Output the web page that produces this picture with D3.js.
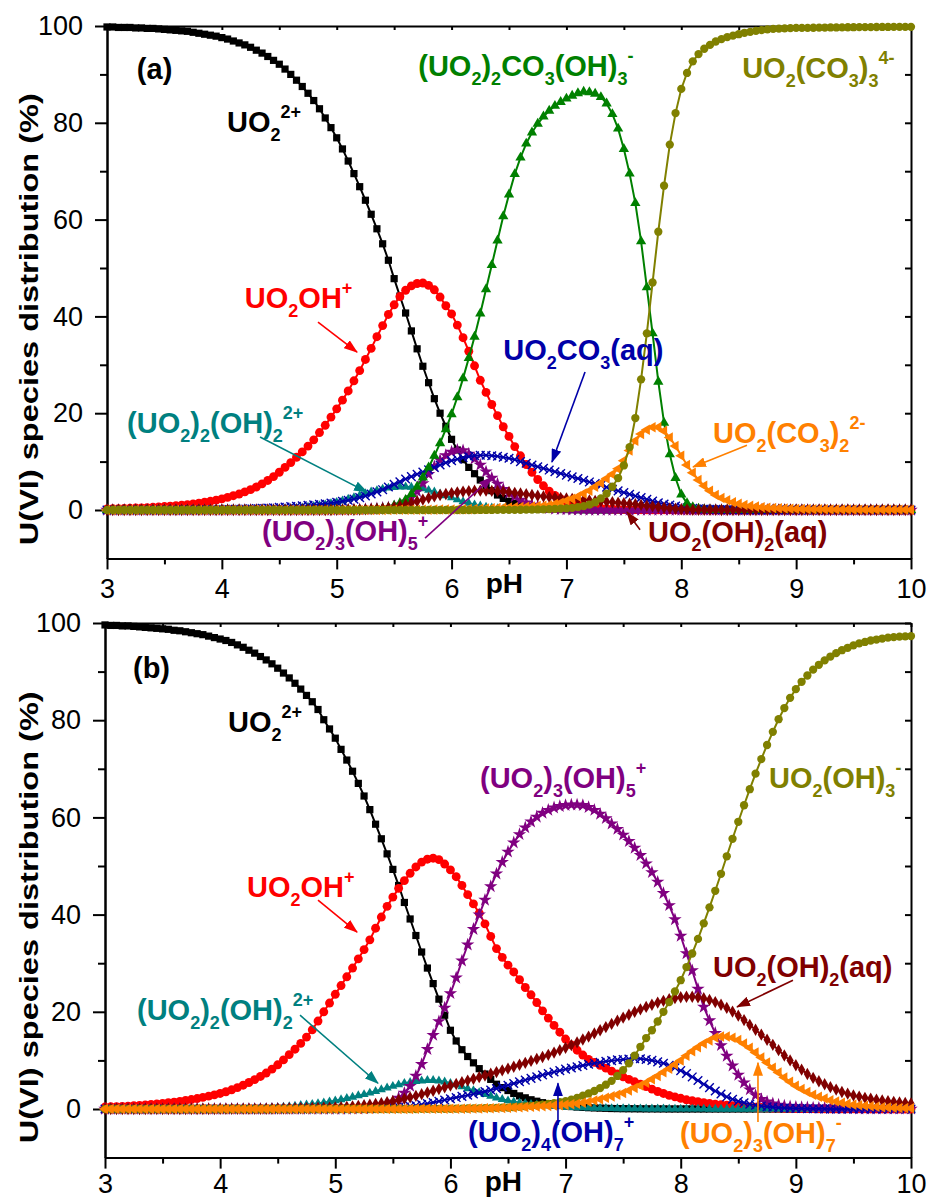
<!DOCTYPE html>
<html><head><meta charset="utf-8">
<script src="https://cdn.jsdelivr.net/npm/d3@7"></script>
<style>body{margin:0;background:#fff}svg{display:block}text{font-family:"Liberation Sans",Arial,sans-serif}</style>
</head><body><svg id="c" width="930" height="1200"></svg>
<script>
// ---------------- DATA ----------------
const pH = [
3,3.05,3.1,3.15,3.2,3.25,3.3,3.35,3.4,3.45,3.5,3.55,3.6,3.65,3.7,3.75,3.8,3.85,3.9,3.95,
4,4.05,4.1,4.15,4.2,4.25,4.3,4.35,4.4,4.45,4.5,4.55,4.6,4.65,4.7,4.75,4.8,4.85,4.9,4.95,
5,5.05,5.1,5.15,5.2,5.25,5.3,5.35,5.4,5.45,5.5,5.55,5.6,5.65,5.7,5.75,5.8,5.85,5.9,5.95,
6,6.05,6.1,6.15,6.2,6.25,6.3,6.35,6.4,6.45,6.5,6.55,6.6,6.65,6.7,6.75,6.8,6.85,6.9,6.95,
7,7.05,7.1,7.15,7.2,7.25,7.3,7.35,7.4,7.45,7.5,7.55,7.6,7.65,7.7,7.75,7.8,7.85,7.9,7.95,
8,8.05,8.1,8.15,8.2,8.25,8.3,8.35,8.4,8.45,8.5,8.55,8.6,8.65,8.7,8.75,8.8,8.85,8.9,8.95,
9,9.05,9.1,9.15,9.2,9.25,9.3,9.35,9.4,9.45,9.5,9.55,9.6,9.65,9.7,9.75,9.8,9.85,9.9,9.95,
10];
const xTickLabels = [3,4,5,6,7,8,9,10];
const xMinorTicks = [3.5,4.5,5.5,6.5,7.5,8.5,9.5];
const yTickLabels = [0,20,40,60,80,100];
const yMinorTicks = [10,30,50,70,90];

// Panel (a)
const a_UO2 = [
99.8,99.8,99.7,99.7,99.7,99.6,99.6,99.5,99.5,99.4,99.3,99.2,99.1,99.0,98.9,98.7,98.5,98.3,98.1,97.9,
97.6,97.3,96.9,96.5,96.1,95.6,95.0,94.4,93.7,92.9,92.1,91.1,90.0,88.8,87.5,86.1,84.6,82.9,81.0,79.0,
76.9,74.6,72.1,69.5,66.8,64.0,61.1,58.1,55.0,51.6,47.8,44.2,40.7,37.0,33.3,29.7,26.3,23.0,20.0,17.3,
14.6,12.4,10.4,8.8,7.5,6.2,5.0,4.0,3.1,2.4,1.8,1.4,1.0,0.75,0.55,0.4,0.3,0.2,0.15,0.1,
0.1,0.05,0.03,0.02,0.01,0,0,0,0,0,0,0,0,0,0,0,0,0,0,0,
0,0,0,0,0,0,0,0,0,0,0,0,0,0,0,0,0,0,0,0,
0,0,0,0,0,0,0,0,0,0,0,0,0,0,0,0,0,0,0,0,
0];
const a_UO2OH = [
0.22,0.25,0.28,0.32,0.35,0.4,0.45,0.5,0.56,0.63,0.71,0.79,0.89,1.0,1.12,1.26,1.42,1.6,1.8,2.03,
2.3,2.6,2.95,3.3,3.75,4.2,4.75,5.4,6.1,6.9,7.8,8.8,9.8,10.9,12.0,13.2,14.5,16.0,17.5,19.2,
20.9,22.7,24.6,26.7,28.8,31.1,33.4,35.8,38.1,40.4,42.4,44.1,45.4,46.3,46.8,46.9,46.4,45.5,44.0,42.2,
40.5,38.2,35.6,32.8,29.8,26.8,24.3,21.8,19.5,17.2,15.2,13.1,11.2,9.4,7.8,6.3,5.0,3.9,3.0,2.3,
1.8,1.4,1.1,0.85,0.65,0.5,0.38,0.3,0.22,0.17,0.13,0.1,0.08,0.06,0.05,0.04,0.03,0.02,0.02,0.01,
0,0,0,0,0,0,0,0,0,0,0,0,0,0,0,0,0,0,0,0,
0,0,0,0,0,0,0,0,0,0,0,0,0,0,0,0,0,0,0,0,
0];
const a_UO22OH2 = [
0,0,0,0,0,0,0,0,0,0,0,0,0,0,0,0,0,0,0,0,
0.01,0.02,0.02,0.03,0.04,0.05,0.06,0.08,0.1,0.13,0.17,0.22,0.3,0.38,0.48,0.6,0.75,0.92,1.1,1.35,
1.6,1.9,2.25,2.6,3.0,3.4,3.75,4.05,4.35,4.55,4.7,4.8,4.8,4.75,4.6,4.4,4.1,3.75,3.35,2.95,
2.55,2.15,1.75,1.4,1.1,0.85,0.63,0.46,0.33,0.23,0.16,0.11,0.07,0.05,0.03,0.02,0.01,0.01,0,0,
0,0,0,0,0,0,0,0,0,0,0,0,0,0,0,0,0,0,0,0,
0,0,0,0,0,0,0,0,0,0,0,0,0,0,0,0,0,0,0,0,
0,0,0,0,0,0,0,0,0,0,0,0,0,0,0,0,0,0,0,0,
0];
const a_UO23OH5 = [
0,0,0,0,0,0,0,0,0,0,0,0,0,0,0,0,0,0,0,0,
0,0,0,0,0,0,0,0,0,0,0,0,0,0,0,0,0,0,0,0,
0.02,0.03,0.05,0.07,0.1,0.14,0.2,0.28,0.38,0.5,0.7,1.1,1.7,2.6,3.8,5.5,7.4,9.0,10.3,11.3,
12.0,12.4,12.3,11.6,10.6,9.3,7.9,6.6,5.4,4.3,3.5,2.8,2.1,1.5,1.05,0.75,0.5,0.35,0.22,0.14,
0.09,0.05,0.03,0.02,0.01,0,0,0,0,0,0,0,0,0,0,0,0,0,0,0,
0,0,0,0,0,0,0,0,0,0,0,0,0,0,0,0,0,0,0,0,
0,0,0,0,0,0,0,0,0,0,0,0,0,0,0,0,0,0,0,0,
0];
const a_UO2CO3 = [
0,0,0,0,0,0,0,0,0,0,0.01,0.01,0.02,0.02,0.03,0.03,0.04,0.05,0.06,0.08,
0.1,0.12,0.15,0.17,0.2,0.25,0.3,0.35,0.4,0.47,0.55,0.62,0.7,0.78,0.85,0.95,1.05,1.17,1.3,1.45,
1.6,1.8,2.0,2.25,2.55,2.9,3.3,3.75,4.2,4.75,5.3,5.85,6.4,6.9,7.4,7.85,8.3,8.8,9.3,9.75,
10.2,10.5,10.8,11.0,11.2,11.3,11.3,11.2,11.1,10.9,10.7,10.4,10.0,9.65,9.3,8.95,8.6,8.25,7.9,7.55,
7.2,6.85,6.5,6.15,5.8,5.45,5.1,4.7,4.3,3.95,3.6,3.25,2.9,2.55,2.2,1.85,1.5,1.25,1.0,0.8,
0.6,0.47,0.35,0.27,0.2,0.16,0.12,0.09,0.07,0.05,0.04,0.03,0.02,0.01,0.01,0,0,0,0,0,
0,0,0,0,0,0,0,0,0,0,0,0,0,0,0,0,0,0,0,0,
0];
const a_UO22CO3OH3 = [
0,0,0,0,0,0,0,0,0,0,0,0,0,0,0,0,0,0,0,0,
0,0,0,0,0,0,0,0,0,0,0,0,0,0,0,0,0,0,0,0,
0.01,0.01,0.02,0.03,0.05,0.08,0.13,0.2,0.3,0.5,0.9,1.4,2.1,3.3,4.8,6.7,8.8,11.2,13.8,16.7,
19.8,23.3,27.2,31.4,35.8,40.6,45.6,50.6,55.7,60.7,65.2,69.4,72.8,75.7,78.0,79.8,81.3,82.5,83.5,84.3,
85.0,85.6,86.1,86.4,86.3,86.0,85.3,84.0,81.8,78.8,74.6,69.5,63.4,55.5,46.0,36.5,26.5,18.0,11.5,6.6,
3.2,1.4,0.6,0.25,0.1,0.05,0.02,0.01,0,0,0,0,0,0,0,0,0,0,0,0,
0,0,0,0,0,0,0,0,0,0,0,0,0,0,0,0,0,0,0,0,
0];
const a_UO2OH2 = [
0,0,0,0,0,0,0,0,0,0,0,0,0,0,0,0,0,0,0,0,
0,0,0,0,0,0,0,0,0,0,0,0,0,0,0,0,0,0,0,0,
0.02,0.03,0.04,0.06,0.09,0.13,0.18,0.24,0.3,0.45,0.6,0.85,1.1,1.45,1.8,2.15,2.5,2.8,3.1,3.3,
3.5,3.65,3.8,3.9,4.0,4.0,4.0,3.95,3.9,3.8,3.7,3.55,3.4,3.25,3.1,2.95,2.8,2.7,2.6,2.5,
2.4,2.3,2.2,2.1,2.0,1.9,1.8,1.7,1.6,1.5,1.4,1.3,1.2,1.05,0.9,0.75,0.6,0.47,0.35,0.25,
0.15,0.1,0.06,0.04,0.03,0.02,0.01,0,0,0,0,0,0,0,0,0,0,0,0,0,
0,0,0,0,0,0,0,0,0,0,0,0,0,0,0,0,0,0,0,0,
0];
const a_UO2CO32 = [
0,0,0,0,0,0,0,0,0,0,0,0,0,0,0,0,0,0,0,0,
0,0,0,0,0,0,0,0,0,0,0,0,0,0,0,0,0,0,0,0,
0,0,0,0,0,0.01,0.01,0.01,0.02,0.02,0.03,0.03,0.04,0.05,0.05,0.06,0.07,0.08,0.09,0.1,
0.1,0.12,0.15,0.18,0.22,0.26,0.3,0.35,0.4,0.45,0.5,0.55,0.6,0.67,0.74,0.82,0.9,1.0,1.25,1.5,
1.9,2.3,2.8,3.4,4.0,4.8,5.6,6.5,7.4,8.5,10.2,12.3,14.3,15.7,16.6,17.1,17.1,16.3,15.0,13.2,
11.2,9.3,7.7,6.2,5.0,4.0,3.1,2.5,2.0,1.6,1.3,1.05,0.85,0.7,0.58,0.48,0.4,0.34,0.29,0.25,
0.22,0.2,0.18,0.16,0.14,0.13,0.12,0.11,0.1,0.09,0.08,0.07,0.07,0.06,0.06,0.05,0.05,0.04,0.04,0.04,
0.03];
const a_UO2CO33 = [
0,0,0,0,0,0,0,0,0,0,0,0,0,0,0,0,0,0,0,0,
0,0,0,0,0,0,0,0,0,0,0,0,0,0,0,0,0,0,0,0,
0,0,0,0,0,0,0,0,0,0,0,0,0,0,0,0,0,0,0,0,
0,0,0,0,0,0.01,0.01,0.01,0.02,0.02,0.03,0.04,0.05,0.07,0.09,0.11,0.14,0.18,0.23,0.29,
0.35,0.45,0.6,0.8,1.1,1.6,2.4,3.4,4.8,6.6,9.2,13.0,19.0,27.0,36.5,47.0,57.5,67.0,75.5,82.0,
87.0,90.3,92.7,94.2,95.3,96.1,96.8,97.3,97.7,98.0,98.3,98.6,98.8,99.0,99.15,99.3,99.4,99.45,99.5,99.55,
99.6,99.6,99.62,99.64,99.66,99.68,99.7,99.7,99.72,99.74,99.75,99.76,99.77,99.78,99.79,99.8,99.8,99.81,99.82,99.82,
99.83];

// Panel (b)
const b_UO2 = [
99.6,99.5,99.5,99.4,99.4,99.3,99.2,99.1,99.0,98.9,98.8,98.7,98.5,98.4,98.2,98.0,97.8,97.6,97.3,97.0,
96.7,96.4,96.0,95.5,95.0,94.4,93.8,93.1,92.4,91.6,90.7,89.7,88.7,87.6,86.4,85.1,83.8,82.2,80.1,78.2,
76.3,74.0,71.8,69.5,67.0,64.4,61.6,58.6,55.6,52.5,49.3,46.0,42.5,39.1,35.7,32.3,29.0,25.8,22.6,19.3,
16.2,14.0,12.2,10.8,9.5,8.3,7.2,6.1,5.1,4.4,3.8,3.2,2.7,2.3,1.9,1.6,1.3,1.1,0.9,0.75,
0.6,0.5,0.4,0.33,0.27,0.22,0.18,0.14,0.1,0.08,0.06,0.05,0.04,0.03,0.02,0.02,0.01,0.01,0,0,
0,0,0,0,0,0,0,0,0,0,0,0,0,0,0,0,0,0,0,0,
0,0,0,0,0,0,0,0,0,0,0,0,0,0,0,0,0,0,0,0,
0];
const b_UO2OH = [
0.4,0.45,0.5,0.55,0.6,0.7,0.75,0.85,0.95,1.05,1.15,1.3,1.4,1.55,1.75,1.95,2.15,2.4,2.65,2.9,
3.2,3.55,3.95,4.4,4.9,5.45,6.05,6.7,7.4,8.2,9.1,10.1,11.2,12.3,13.5,14.8,16.3,18.1,20.0,21.8,
23.6,25.4,27.2,29.0,30.9,32.8,34.8,37.2,39.5,41.7,43.6,45.4,47.0,48.5,49.8,50.8,51.4,51.6,51.3,50.4,
49.2,47.8,46.0,44.1,42.2,40.3,38.1,35.5,33.0,31.2,29.6,28.2,26.6,25.0,23.5,21.9,20.2,18.7,17.2,15.8,
14.4,13.2,12.1,11.1,10.2,9.6,9.0,8.4,7.8,7.2,6.6,6.1,5.6,5.1,4.6,4.1,3.6,3.2,2.8,2.5,
2.2,1.9,1.7,1.5,1.3,1.15,1.0,0.9,0.8,0.7,0.6,0.5,0.42,0.35,0.3,0.25,0.2,0.17,0.14,0.12,
0.1,0.09,0.08,0.07,0.06,0.05,0.04,0.04,0.03,0.03,0.02,0.02,0.02,0.01,0.01,0.01,0.01,0.01,0,0,
0];
const b_UO22OH2 = [
0,0,0,0,0,0,0,0,0,0,0,0,0,0,0,0,0,0,0,0,
0.05,0.06,0.07,0.08,0.1,0.12,0.15,0.18,0.22,0.27,0.33,0.41,0.5,0.62,0.75,0.87,1.0,1.15,1.3,1.5,
1.7,1.95,2.2,2.45,2.75,3.0,3.3,3.65,4.0,4.35,4.7,5.0,5.3,5.5,5.7,5.8,5.9,5.9,5.8,5.6,
5.3,5.0,4.6,4.2,3.8,3.4,3.0,2.65,2.3,2.0,1.7,1.5,1.3,1.15,1.0,0.87,0.75,0.65,0.55,0.47,
0.4,0.35,0.3,0.26,0.22,0.19,0.16,0.14,0.12,0.1,0.09,0.08,0.07,0.06,0.05,0.04,0.03,0.03,0.02,0.02,
0.01,0.01,0.01,0.01,0.01,0,0,0,0,0,0,0,0,0,0,0,0,0,0,0,
0,0,0,0,0,0,0,0,0,0,0,0,0,0,0,0,0,0,0,0,
0];
const b_UO23OH5 = [
0,0,0,0,0,0,0,0,0,0,0,0,0,0,0,0,0,0,0,0,
0,0,0,0,0,0,0,0,0,0,0,0,0,0,0,0,0,0,0,0,
0,0,0.01,0.02,0.04,0.08,0.2,0.35,0.6,1.0,1.5,2.3,3.3,4.7,6.8,9.2,12.3,15.2,18.0,20.8,
23.8,27.0,30.5,33.8,37.0,40.0,43.0,45.8,48.4,50.8,52.9,54.8,56.5,57.9,59.1,60.1,60.9,61.5,62.0,62.3,
62.5,62.6,62.6,62.5,62.1,61.5,60.7,59.8,58.7,57.6,56.4,55.1,53.7,52.2,50.5,48.7,46.7,44.4,41.9,39.0,
35.6,32.0,28.5,24.7,21.0,18.2,15.6,13.1,10.9,8.9,7.0,5.4,4.0,2.8,2.0,1.5,1.1,0.85,0.65,0.5,
0.4,0.33,0.28,0.24,0.2,0.17,0.14,0.12,0.1,0.08,0.07,0.06,0.05,0.04,0.04,0.03,0.03,0.02,0.02,0.02,
0.02];
const b_UO24OH7 = [
0,0,0,0,0,0,0,0,0,0,0,0,0,0,0,0,0,0,0,0,
0,0,0,0,0,0,0,0,0,0,0,0,0,0,0,0,0,0,0,0,
0.02,0.03,0.04,0.05,0.06,0.08,0.1,0.12,0.15,0.18,0.2,0.3,0.4,0.55,0.7,0.9,1.1,1.35,1.6,1.85,
2.1,2.35,2.6,2.85,3.1,3.35,3.6,3.9,4.2,4.55,4.9,5.25,5.6,5.95,6.3,6.65,7.0,7.3,7.6,7.9,
8.2,8.45,8.7,8.95,9.2,9.4,9.6,9.8,9.95,10.1,10.2,10.3,10.35,10.35,10.2,10.0,9.7,9.4,9.0,8.5,
7.9,7.3,6.6,5.85,5.1,4.4,3.7,3.1,2.5,2.0,1.6,1.3,1.0,0.8,0.6,0.47,0.35,0.27,0.2,0.15,
0.12,0.09,0.07,0.05,0.04,0.03,0.02,0.02,0.01,0.01,0,0,0,0,0,0,0,0,0,0,
0];
const b_UO2OH2 = [
0,0,0,0,0,0,0,0,0,0,0,0,0,0,0,0,0,0,0,0,
0.01,0.01,0.01,0.02,0.02,0.02,0.03,0.03,0.04,0.05,0.08,0.09,0.1,0.12,0.15,0.17,0.2,0.22,0.25,0.28,
0.3,0.37,0.45,0.55,0.65,0.77,0.9,1.05,1.2,1.4,1.6,1.85,2.1,2.4,2.7,3.05,3.4,3.75,4.1,4.45,
4.8,5.15,5.5,5.85,6.2,6.55,6.9,7.25,7.6,7.95,8.3,8.7,9.1,9.5,9.9,10.3,10.7,11.15,11.6,12.1,
12.6,13.15,13.7,14.3,14.9,15.55,16.2,16.85,17.5,18.15,18.8,19.4,20.0,20.5,21.0,21.45,21.9,22.25,22.6,22.8,
23.0,23.1,23.1,23.0,22.8,22.45,22.0,21.45,20.8,20.05,19.2,18.3,17.3,16.3,15.3,14.25,13.2,12.1,11.0,10.0,
9.0,8.1,7.2,6.4,5.7,5.1,4.5,4.0,3.5,3.15,2.8,2.55,2.3,2.1,1.9,1.75,1.6,1.47,1.35,1.25,
1.15];
const b_UO23OH7 = [
0,0,0,0,0,0,0,0,0,0,0,0,0,0,0,0,0,0,0,0,
0,0,0,0,0,0,0,0,0,0,0,0,0,0,0,0,0,0,0,0,
0,0,0,0,0,0,0,0,0,0,0.01,0.01,0.02,0.02,0.03,0.03,0.03,0.04,0.04,0.05,
0.05,0.06,0.07,0.08,0.1,0.12,0.14,0.17,0.2,0.23,0.27,0.31,0.35,0.4,0.45,0.5,0.55,0.62,0.7,0.77,
0.85,0.97,1.1,1.3,1.5,1.75,2.0,2.3,2.6,2.95,3.3,3.8,4.3,4.85,5.4,6.1,6.8,7.55,8.3,9.15,
10.0,10.95,11.9,12.7,13.5,14.1,14.7,14.9,14.9,14.65,14.2,13.45,12.6,11.6,10.6,9.55,8.5,7.5,6.5,5.6,
4.8,4.1,3.5,2.95,2.5,2.15,1.8,1.55,1.3,1.1,0.9,0.77,0.65,0.55,0.45,0.38,0.32,0.27,0.22,0.18,
0.15];
const b_UO2OH3 = [
0,0,0,0,0,0,0,0,0,0,0,0,0,0,0,0,0,0,0,0,
0,0,0,0,0,0,0,0,0,0,0,0,0,0,0,0,0,0,0,0,
0,0,0,0,0,0,0,0,0,0,0,0,0,0,0,0.02,0.02,0.03,0.03,0.04,
0.05,0.06,0.08,0.1,0.12,0.14,0.17,0.2,0.23,0.27,0.3,0.37,0.45,0.55,0.65,0.77,0.9,1.05,1.2,1.4,
1.6,1.9,2.3,2.75,3.2,3.7,4.3,5.0,5.8,6.8,8.0,9.4,11.0,12.8,14.6,16.2,18.0,20.0,22.0,24.2,
26.5,29.2,32.0,35.0,38.2,41.5,44.9,48.4,52.0,55.6,59.1,62.5,65.8,69.0,72.0,74.9,77.6,80.2,82.5,84.6,
86.4,87.9,89.2,90.4,91.4,92.3,93.1,93.8,94.4,94.9,95.4,95.8,96.1,96.4,96.6,96.8,97.0,97.1,97.2,97.25,
97.3];

// ---------------- STYLE / LAYOUT ----------------
const C = {black:'#000000', red:'#ff0000', teal:'#008080', purple:'#800080', blue:'#0000a8',
           green:'#008000', dred:'#800000', orange:'#ff8000', olive:'#808000'};

const seriesA = [
  {v:a_UO2, c:C.black, s:'square'},
  {v:a_UO2OH, c:C.red, s:'circle'},
  {v:a_UO22OH2, c:C.teal, s:'triUp'},
  {v:a_UO23OH5, c:C.purple, s:'star'},
  {v:a_UO2CO3, c:C.blue, s:'times'},
  {v:a_UO22CO3OH3, c:C.green, s:'triUpBig'},
  {v:a_UO2OH2, c:C.dred, s:'diamond'},
  {v:a_UO2CO32, c:C.orange, s:'triLeft'},
  {v:a_UO2CO33, c:C.olive, s:'hex'}
];
const seriesB = [
  {v:b_UO2, c:C.black, s:'square'},
  {v:b_UO2OH, c:C.red, s:'circle'},
  {v:b_UO22OH2, c:C.teal, s:'triUp'},
  {v:b_UO23OH5, c:C.purple, s:'star'},
  {v:b_UO24OH7, c:C.blue, s:'times'},
  {v:b_UO2OH2, c:C.dred, s:'diamond'},
  {v:b_UO2OH3, c:C.olive, s:'hex'},
  {v:b_UO23OH7, c:C.orange, s:'triLeft'}
];

const labelsA = [
  {t:[['(a)']], c:C.black, p:[3.26,89.0]},
  {t:[['UO'],['2','sub'],['2+','sup']], c:C.black, p:[4.045,78.1]},
  {t:[['(UO'],['2','sub'],[')'],['2','sub'],['CO'],['3','sub'],['(OH)'],['3','sub'],['-','sup']], c:C.green, p:[5.71,89.7]},
  {t:[['UO'],['2','sub'],['(CO'],['3','sub'],[')'],['3','sub'],['4-','sup']], c:C.olive, p:[8.53,89.3]},
  {t:[['UO'],['2','sub'],['OH'],['+','sup']], c:C.red, p:[4.2,41.7]},
  {t:[['UO'],['2','sub'],['CO'],['3','sub'],['(aq)']], c:C.blue, p:[6.45,31.0]},
  {t:[['(UO'],['2','sub'],[')'],['2','sub'],['(OH)'],['2','sub'],['2+','sup']], c:C.teal, p:[3.175,15.9]},
  {t:[['UO'],['2','sub'],['(CO'],['3','sub'],[')'],['2','sub'],['2-','sup']], c:C.orange, p:[8.276,13.8]},
  {t:[['(UO'],['2','sub'],[')'],['3','sub'],['(OH)'],['5','sub'],['+','sup']], c:C.purple, p:[4.35,-6.4]},
  {t:[['UO'],['2','sub'],['(OH)'],['2','sub'],['(aq)']], c:C.dred, p:[7.71,-6.6]}
];
const arrowsA = [
  {c:C.red, f:[4.837,38.8], to:[5.177,32.6]},
  {c:C.teal, f:[4.332,15.1], to:[5.264,3.7]},
  {c:C.purple, f:[5.769,-5.8], to:[6.352,6.8]},
  {c:C.blue, f:[7.162,28.5], to:[6.874,9.9]},
  {c:C.orange, f:[8.572,13.4], to:[8.102,8.9]},
  {c:C.dred, f:[7.641,-4.1], to:[7.527,-0.4]}
];
const labelsB = [
  {t:[['(b)']], c:C.black, p:[3.243,88.7]},
  {t:[['UO'],['2','sub'],['2+','sup']], c:C.black, p:[4.068,77.6]},
  {t:[['UO'],['2','sub'],['OH'],['+','sup']], c:C.red, p:[4.233,43.6]},
  {t:[['(UO'],['2','sub'],[')'],['3','sub'],['(OH)'],['5','sub'],['+','sup']], c:C.purple, p:[6.257,66.0]},
  {t:[['UO'],['2','sub'],['(OH)'],['3','sub'],['-','sup']], c:C.olive, p:[8.767,66.0]},
  {t:[['UO'],['2','sub'],['(OH)'],['2','sub'],['(aq)']], c:C.dred, p:[8.28,27.2]},
  {t:[['(UO'],['2','sub'],[')'],['2','sub'],['(OH)'],['2','sub'],['2+','sup']], c:C.teal, p:[3.278,18.3]},
  {t:[['(UO'],['2','sub'],[')'],['4','sub'],['(OH)'],['7','sub'],['+','sup']], c:C.blue, p:[6.153,-6.8]},
  {t:[['(UO'],['2','sub'],[')'],['3','sub'],['(OH)'],['7','sub'],['-','sup']], c:C.orange, p:[7.994,-7.0]}
];
const arrowsB = [
  {c:C.red, f:[4.85,43.0], to:[5.189,36.4]},
  {c:C.teal, f:[4.694,19.3], to:[5.371,5.3]},
  {c:C.dred, f:[8.975,26.5], to:[8.489,21.0]},
  {c:C.blue, f:[6.934,-3.3], to:[6.934,5.3]},
  {c:C.orange, f:[8.671,-2.7], to:[8.671,9.5]}
];

const FONT = '"Liberation Sans",Arial,sans-serif';
const LABEL_SIZE = 29, SMALL_SIZE = 18;
const svg = d3.select('#c');
const defs = svg.append('defs');
Object.entries(C).forEach(([k,col])=>{
  defs.append('marker').attr('id','ah-'+k).attr('markerUnits','userSpaceOnUse')
    .attr('markerWidth',14).attr('markerHeight',10).attr('refX',13).attr('refY',5)
    .attr('orient','auto').append('path').attr('d','M0,0L14,5L0,10Z').attr('fill',col);
});
const colKey = col => Object.keys(C).find(k=>C[k]===col);

const timesSym = d3.symbolTimes || {draw(ctx,size){const r=Math.sqrt(size)/2.4;ctx.moveTo(-r,-r);ctx.lineTo(r,r);ctx.moveTo(r,-r);ctx.lineTo(-r,r);}};
const SYM = {
  square:{t:d3.symbolSquare, size:52, rot:0, stroke:false},
  circle:{t:d3.symbolCircle, size:62, rot:0, stroke:false},
  triUp:{t:d3.symbolTriangle, size:36, rot:0, stroke:false},
  triUpBig:{t:d3.symbolTriangle, size:46, rot:0, stroke:false},
  star:{t:d3.symbolStar, size:56, rot:0, stroke:false},
  times:{t:timesSym, size:50, rot:0, stroke:true},
  diamond:{t:d3.symbolDiamond, size:44, rot:0, stroke:false},
  triLeft:{t:d3.symbolTriangle, size:48, rot:-90, stroke:false},
  hex:{t:d3.symbolCircle, size:54, rot:0, stroke:false}
};

function richText(g, x, y, parts, color) {
  const t = g.append('text').attr('x',x).attr('y',y).attr('fill',color)
    .attr('font-weight','bold').attr('font-size',LABEL_SIZE).attr('font-family',FONT);
  let cur = 0;
  parts.forEach(([s,k])=>{
    const target = k==='sub' ? 9 : k==='sup' ? -14 : 0;
    t.append('tspan').attr('dy', target-cur).attr('font-size', k ? SMALL_SIZE : LABEL_SIZE).text(s);
    cur = target;
  });
}

function drawPanel(L, series, labels, arrows) {
  const x = d3.scaleLinear().domain([3,10]).range([L.left, L.right]);
  const y = d3.scaleLinear().domain([-10,100]).range([L.bottom, L.top]);
  const g = svg.append('g');

  const styleAxis = sel => {
    sel.attr('font-size',27).attr('font-family',FONT);
    sel.selectAll('path.domain').attr('stroke','#000').attr('stroke-width',2);
    sel.selectAll('.tick line').attr('stroke','#000').attr('stroke-width',2);
    sel.selectAll('.tick text').attr('fill','#000');
  };
  g.append('g').attr('transform',`translate(0,${L.bottom})`)
    .call(d3.axisBottom(x).tickValues(xTickLabels).tickSize(11).tickPadding(L.xPad).tickSizeOuter(0).tickFormat(d3.format('d'))).call(styleAxis);
  g.append('g').attr('transform',`translate(0,${L.bottom})`)
    .call(d3.axisBottom(x).tickValues(xMinorTicks).tickSize(6).tickSizeOuter(0).tickFormat('')).call(styleAxis);
  g.append('g').attr('transform',`translate(0,${L.top})`)
    .call(d3.axisBottom(x).tickValues(xTickLabels.concat(xMinorTicks)).tickSize(4).tickSizeOuter(0).tickFormat('')).call(styleAxis);
  g.append('g').attr('transform',`translate(${L.left},0)`)
    .call(d3.axisLeft(y).tickValues(yTickLabels).tickSize(12).tickPadding(12).tickSizeOuter(0)).call(styleAxis);
  g.append('g').attr('transform',`translate(${L.left},0)`)
    .call(d3.axisLeft(y).tickValues(yMinorTicks).tickSize(7).tickSizeOuter(0).tickFormat('')).call(styleAxis);
  g.append('g').attr('transform',`translate(${L.right},0)`)
    .call(d3.axisLeft(y).tickValues(yTickLabels.concat(yMinorTicks)).tickSize(6).tickSizeOuter(0).tickFormat('')).call(styleAxis);

  g.append('text').attr('transform',`translate(38,${(L.top+L.bottom)/2+27}) rotate(-90)`)
    .attr('text-anchor','middle').attr('font-weight','bold').attr('font-size',26).attr('font-family',FONT)
    .attr('textLength',452).attr('lengthAdjust','spacingAndGlyphs')
    .text('U(VI) species distribution (%)');
  g.append('text').attr('x',x(6.46)).attr('y',L.bottom+L.pHdy).attr('text-anchor','middle')
    .attr('font-weight','bold').attr('font-size',28).attr('font-family',FONT).text('pH');

  const line = d3.line().x(d=>x(d[0])).y(d=>y(d[1]));
  series.forEach(s=>{
    const pts = pH.map((p,i)=>[p,s.v[i]]);
    g.append('path').attr('d',line(pts)).attr('fill','none').attr('stroke',s.c).attr('stroke-width',2);
    const sp = SYM[s.s];
    const dPath = d3.symbol().type(sp.t).size(sp.size)();
    g.append('g').selectAll('path').data(pts).join('path')
      .attr('transform',d=>`translate(${x(d[0])},${y(d[1])})${sp.rot?` rotate(${sp.rot})`:''}`)
      .attr('d',dPath)
      .attr('fill', sp.stroke ? 'none' : s.c)
      .attr('stroke', sp.stroke ? s.c : 'none')
      .attr('stroke-width', sp.stroke ? 1.4 : 0);
  });

  arrows.forEach(a=>{
    g.append('line').attr('x1',x(a.f[0])).attr('y1',y(a.f[1])).attr('x2',x(a.to[0])).attr('y2',y(a.to[1]))
      .attr('stroke',a.c).attr('stroke-width',1.6).attr('marker-end',`url(#ah-${colKey(a.c)})`);
  });
  labels.forEach(l=> richText(g, x(l.p[0]), y(l.p[1]), l.t, l.c));
}

drawPanel({left:107,right:911,top:26,bottom:558.4,xPad:9,pHdy:35}, seriesA, labelsA, arrowsA);
drawPanel({left:105,right:911,top:623,bottom:1157.6,xPad:5,pHdy:33}, seriesB, labelsB, arrowsB);
</script></body></html>
